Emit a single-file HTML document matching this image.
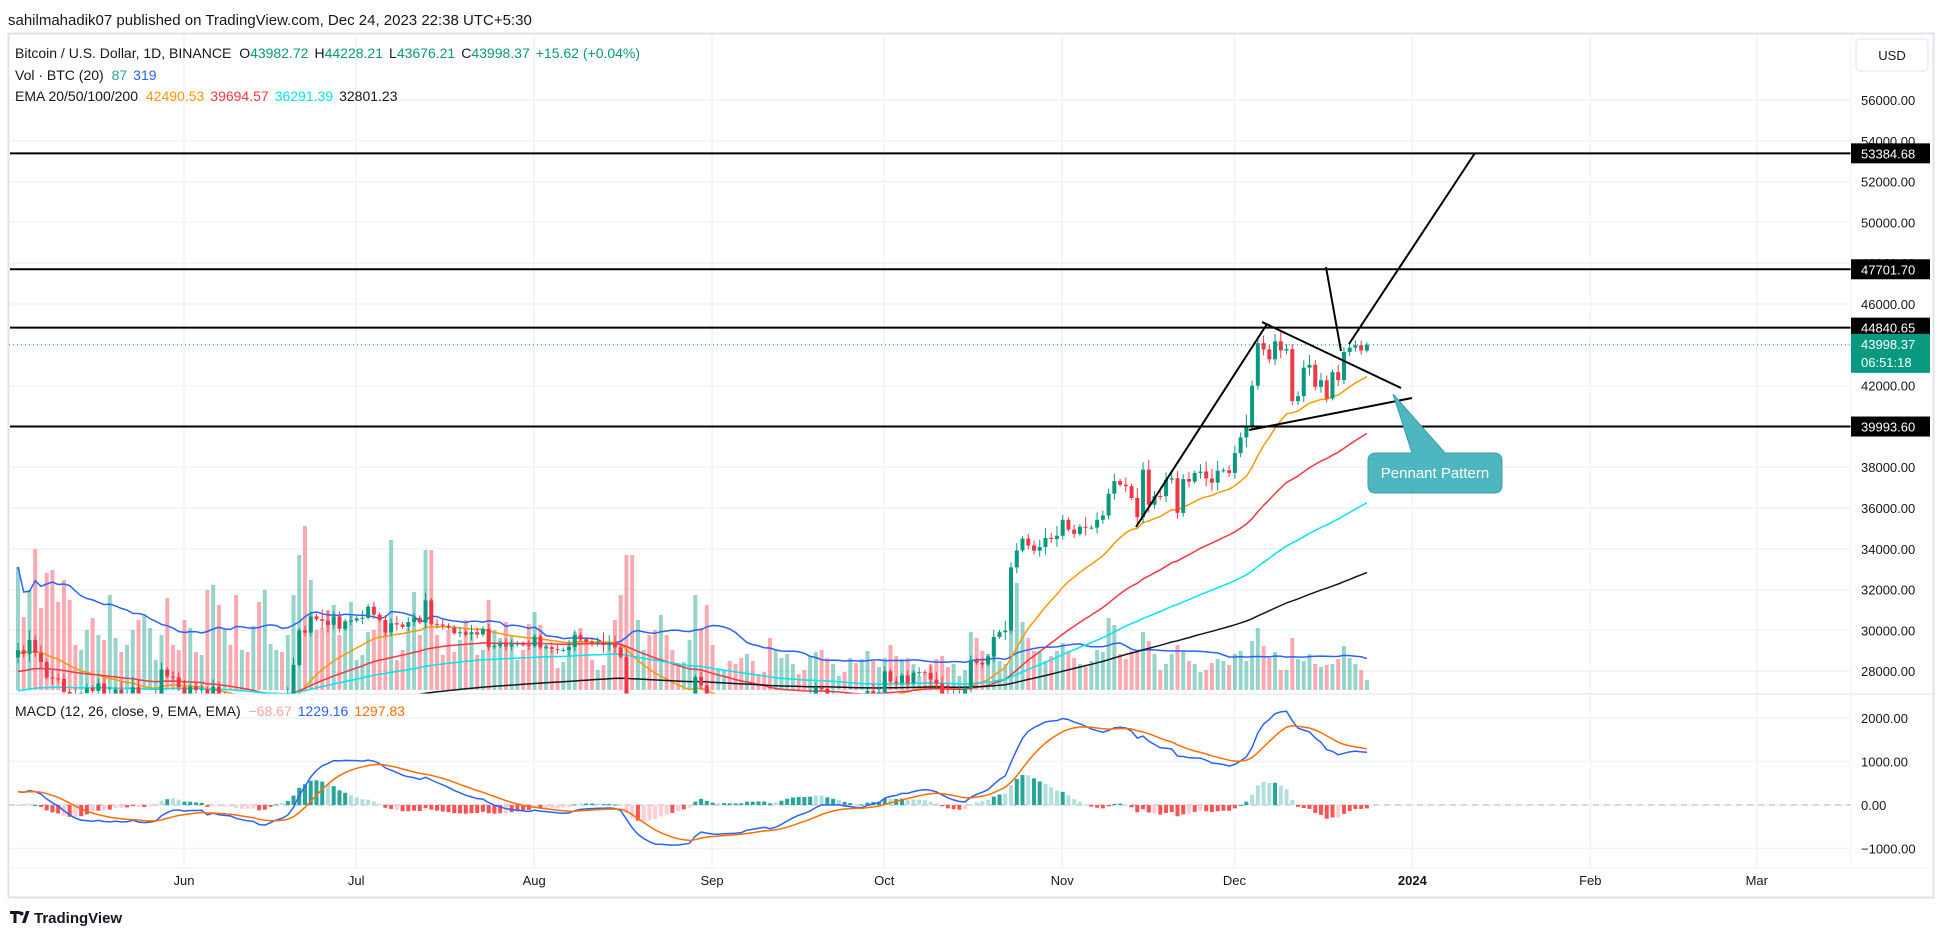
<!DOCTYPE html>
<html><head><meta charset="utf-8">
<style>
html,body{margin:0;padding:0;background:#fff;}
svg{display:block;font-family:"Liberation Sans",sans-serif;}
</style></head>
<body>
<svg id="chart" width="1946" height="937" viewBox="0 0 1946 937" xmlns="http://www.w3.org/2000/svg">
<defs>
<clipPath id="mainClip"><rect x="9" y="34" width="1842" height="660"/></clipPath>
<clipPath id="macdClip"><rect x="9" y="695" width="1842" height="172"/></clipPath>
</defs>
<rect width="1946" height="937" fill="#fff"/>
<text x="8" y="25" font-size="15" fill="#131722">sahilmahadik07 published on TradingView.com, Dec 24, 2023 22:38 UTC+5:30</text>
<rect x="8.5" y="33.5" width="1925" height="864" fill="none" stroke="#e0e3eb" stroke-width="2"/>
<g id="grid"></g>
<g id="main" clip-path="url(#mainClip)"></g>
<g id="macd" clip-path="url(#macdClip)"></g>
<g id="drawings"></g>
<line x1="9" y1="694" x2="1933" y2="694" stroke="#e0e3eb" stroke-width="1"/>
<line x1="1851" y1="34" x2="1851" y2="868" stroke="#f0f3fa" stroke-width="1"/>
<line x1="9" y1="868" x2="1933" y2="868" stroke="#f0f3fa" stroke-width="1"/>
<g id="axes"></g>
<g font-size="14">
<text x="15" y="58" fill="#131722">Bitcoin / U.S. Dollar, 1D, BINANCE <tspan dx="4">O</tspan><tspan fill="#089981">43982.72</tspan><tspan dx="6">H</tspan><tspan fill="#089981">44228.21</tspan><tspan dx="6">L</tspan><tspan fill="#089981">43676.21</tspan><tspan dx="6">C</tspan><tspan fill="#089981">43998.37</tspan><tspan dx="6" fill="#089981">+15.62 (+0.04%)</tspan></text>
<text x="15" y="80" fill="#131722">Vol · BTC (20) <tspan dx="4" fill="#26a69a">87</tspan><tspan dx="6" fill="#2962ff">319</tspan></text>
<text x="15" y="101" fill="#131722">EMA 20/50/100/200 <tspan dx="4" fill="#ff9800">42490.53</tspan><tspan dx="6" fill="#f23645">39694.57</tspan><tspan dx="6" fill="#00e5e5">36291.39</tspan><tspan dx="6" fill="#131722">32801.23</tspan></text>
<text x="15" y="716" fill="#131722">MACD (12, 26, close, 9, EMA, EMA) <tspan dx="4" fill="#f7a5a5">−68.67</tspan><tspan dx="6" fill="#2962ff">1229.16</tspan><tspan dx="6" fill="#ff6d00">1297.83</tspan></text>
</g>
<g>
<rect x="1856" y="39" width="72" height="32" rx="4" fill="#fff" stroke="#e0e3eb"/>
<text x="1892" y="60" font-size="13" fill="#131722" text-anchor="middle">USD</text>
</g>
<g>
<path d="M1368,461 Q1368,453 1376,453 L1412,453 L1393,394 L1445,453 L1494,453 Q1502,453 1502,461 L1502,485 Q1502,493 1494,493 L1376,493 Q1368,493 1368,485 Z" fill="#4db6c0" stroke="#3a9fa9" stroke-width="1"/>
<text x="1435" y="478" font-size="15" fill="#fff" text-anchor="middle">Pennant Pattern</text>
</g>
<g>
<path d="M10,911 h10 v3 h-3.5 v9 h-3 v-9 h-3.5 z M22,923 l4,-12 h3.5 l-4,12 z" fill="#131722"/>
<circle cx="21.5" cy="913.5" r="2" fill="#131722"/>
<text x="34" y="923" font-size="15" font-weight="bold" fill="#131722">TradingView</text>
</g>
</svg>
<script>
const closes = [
29030,28850,29530,28900,28450,27690,27650,27620,26990,26800,26780,26930,27170,27030,27400,26830,26890,27110,26750,26850,27220,26330,26470,26720,26860,28080,27740,27700,27220,
26820,27250,27070,27120,25740,27240,26340,26500,26480,25850,25940,25900,25920,25120,25580,26330,26510,26340,26850,28310,30000,29890,30690,30550,30470,30270,30690,30080,30450,30480,
30590,30620,31160,30770,30510,29900,30350,30290,30170,30410,30620,30390,31470,30320,30290,30230,30140,29860,29910,29800,29910,29800,30080,29180,29230,29350,29210,29310,29350,29280,29230,
29700,29170,29180,29080,29040,29040,29180,29770,29560,29430,29400,29420,29280,29400,29170,28700,26620,26050,26090,26190,26120,26050,26430,26160,26060,26010,26090,26100,27720,27300,25940,
25800,25870,25970,25810,25780,25750,26240,25900,25890,25840,25160,25840,26220,26530,26600,26570,26530,26760,27210,27130,26570,26580,26580,26250,26300,26220,26350,27030,26910,26970,
27990,27500,27430,27790,27410,27930,27950,27920,27590,27390,26870,26760,26860,26860,27160,28520,28410,28330,28720,29680,29910,29990,33090,33920,34500,34160,33910,34090,34530,34480,34640,
35420,34940,34730,35080,35040,35040,35420,35630,36700,37320,37140,37070,36490,35550,37880,36160,36590,36580,37390,37460,35760,37420,37290,37720,37790,37450,37240,37830,37850,37720,
38690,39460,39980,41990,44080,43770,43290,44170,43720,43790,41240,41480,42880,43020,41940,42260,41370,42660,42270,43650,43860,43970,43720,43998];
const firstOpen = 28680;
const volumes = [
123,73,100,141,82,117,120,88,110,90,45,40,60,72,55,50,95,52,38,45,60,70,75,62,30,55,92,45,40,
70,62,38,35,100,105,85,60,45,95,40,38,64,88,100,46,40,38,55,95,135,164,110,60,62,80,85,55,64,88,
30,35,58,60,75,68,150,30,40,62,98,55,140,140,55,35,60,38,50,70,55,35,40,90,60,52,68,55,30,40,66,
78,65,45,40,22,28,48,58,62,52,30,20,25,45,70,95,135,135,70,40,55,60,75,55,40,25,28,50,95,62,85,
45,20,20,29,26,32,36,29,16,18,52,40,32,36,26,16,20,34,38,40,32,26,14,18,32,27,31,39,29,23,
32,45,34,31,32,26,14,16,26,31,34,23,26,14,20,58,52,39,36,45,29,26,88,107,68,52,39,38,29,34,39,
47,39,32,26,23,29,40,38,72,65,36,31,39,40,58,49,36,20,26,36,45,39,29,26,18,20,27,31,29,25,
36,39,29,49,62,44,32,38,20,20,52,31,29,36,26,23,25,26,31,44,32,26,20,10];
const wickSteps = "32423132213121223132432123122312213242312213121331221442212131212231221312211213212112211211122132112243313211211112211221321121111212121232114221121322121212133342312121314231223424212141322313143422323231344412325223234222342321322221";
const priceTicks = [56000,54000,52000,50000,48000,46000,44000,42000,40000,38000,36000,34000,32000,30000,28000];
const macdTicks = [2000,1000,0,-1000];
const monthLabels = ["Jun","Jul","Aug","Sep","Oct","Nov","Dec","2024","Feb","Mar"];
const monthDays = [0,30,61,92,122,153,183,214,245,274];
const levels = [53384.68,47701.70,44840.65,39993.60];
const lastPrice = 43998.37;
const emaPeriods = [20,50,100,200];
const emaSeeds = [28900,27950,27000,25400];
const emaColors = ["#ff9800","#f23645","#00e5ee","#131722"];

const NS="http://www.w3.org/2000/svg";
function el(tag,attrs,parent){const e=document.createElementNS(NS,tag);for(const k in attrs)e.setAttribute(k,attrs[k]);parent.appendChild(e);return e;}
const X0=18, DX=5.74;
function xi(i){return X0+i*DX;}
function xDay(d){return 184+d*DX;}
function yP(p){return 100+(56000-p)*(40.8/2000);}
function yM(v){return 805-v*0.0435;}
function yV(v){return 690-v;}
const grid=document.getElementById('grid'), main=document.getElementById('main'), macd=document.getElementById('macd'), axes=document.getElementById('axes'), dr=document.getElementById('drawings');

priceTicks.forEach(p=>{
  const l=el('line',{x1:9,x2:1851,y1:yP(p),y2:yP(p),stroke:'#f0f3fa','stroke-width':1.5},grid);
  
  
  const t=el('text',{x:1861,y:yP(p)+5,'font-size':13,fill:'#131722'},axes);
  t.textContent=p.toFixed(2);
  
  
});
macdTicks.forEach(v=>{
  const l=el('line',{x1:9,x2:1851,y1:yM(v),y2:yM(v),stroke:'#f0f3fa','stroke-width':1.5},grid);
  
  
  const t=el('text',{x:1861,y:yM(v)+5,'font-size':13,fill:'#131722'},axes);
  t.textContent=(v<0?'−':'')+Math.abs(v).toFixed(2);
  
  
});
monthLabels.forEach((m,k)=>{
  const x=xDay(monthDays[k]);
  const l=el('line',{x1:x,x2:x,y1:34,y2:868,stroke:'#f0f3fa','stroke-width':1.5},grid);
  
  
  const t=el('text',{x:x,y:885,'font-size':13,fill:'#131722','text-anchor':'middle','font-weight':m==='2024'?'bold':'normal'},axes);
  t.textContent=m;
  
  
});
const zl=el('line',{x1:9,x2:1851,y1:yM(0),y2:yM(0),stroke:'#b2b5be','stroke-width':1,'stroke-dasharray':'6 5'},grid);



const n=closes.length;
for(let i=0;i<n;i++){
  const o=i?closes[i-1]:firstOpen, c=closes[i];
  const r=el('rect',{x:xi(i)-2,y:yV(volumes[i]),width:4,height:volumes[i],fill:c>=o?'rgba(8,153,129,0.42)':'rgba(242,54,69,0.42)'},main);
  
  
}
let vpts=[];
for(let i=0;i<n;i++){let s=0,k=0;for(let j=Math.max(0,i-19);j<=i;j++){s+=volumes[j];k++;}vpts.push(xi(i).toFixed(1)+','+yV(s/k).toFixed(1));}
const vma=el('polyline',{points:vpts.join(' '),fill:'none',stroke:'#2962ff','stroke-width':1.5},main);



emaPeriods.forEach((p,k)=>{
  let e=emaSeeds[k];const a=2/(p+1);const pts=[];
  for(let i=0;i<n;i++){e=closes[i]*a+e*(1-a);pts.push(xi(i).toFixed(1)+','+yP(e).toFixed(1));}
  const pl=el('polyline',{points:pts.join(' '),fill:'none',stroke:emaColors[k],'stroke-width':1.5},main);
  
  
});

for(let i=0;i<n;i++){
  const o=i?closes[i-1]:firstOpen, c=closes[i];
  const w=(+wickSteps[i%wickSteps.length])*120;
  const hi=Math.max(o,c)+w, lo=Math.min(o,c)-w*0.8;
  const col=c>=o?'#089981':'#f23645';
  const wk=el('line',{x1:xi(i),x2:xi(i),y1:yP(hi),y2:yP(lo),stroke:col,'stroke-width':1},main);
  
  
  const top=yP(Math.max(o,c)), h=Math.max(1,yP(Math.min(o,c))-top);
  const b=el('rect',{x:xi(i)-2,y:top,width:4,height:h,fill:col},main);
  
  
}

let e12=28700,e26=28400,sig=300;const mPts=[],sPts=[];
for(let i=0;i<n;i++){
  e12=closes[i]*2/13+e12*11/13; e26=closes[i]*2/27+e26*25/27;
  const m=e12-e26; const prevH=m-sig; sig=m*0.2+sig*0.8; const h=m-sig;
  mPts.push(xi(i).toFixed(1)+','+yM(m).toFixed(1)); sPts.push(xi(i).toFixed(1)+','+yM(sig).toFixed(1));
  const col=h>=0?(h>=prevH*0.8?'#26a69a':'#b2dfdb'):(h<=prevH*0.8?'#ff5252':'#ffcdd2');
  const y0=yM(0),y1=yM(h);
  const r=el('rect',{x:xi(i)-2,y:Math.min(y0,y1),width:4,height:Math.max(1,Math.abs(y1-y0)),fill:col},macd);
  
  
}
const ml=el('polyline',{points:mPts.join(' '),fill:'none',stroke:'#2962ff','stroke-width':1.5},macd);


const sl=el('polyline',{points:sPts.join(' '),fill:'none',stroke:'#ff6d00','stroke-width':1.5},macd);



const cp=el('line',{x1:9,x2:1851,y1:yP(lastPrice),y2:yP(lastPrice),stroke:'#089981','stroke-width':1,'stroke-dasharray':'1 3'},dr);



levels.forEach(p=>{
  const l=el('line',{x1:10,x2:1851,y1:yP(p),y2:yP(p),stroke:'#000','stroke-width':2},dr);
  
  
  const r=el('rect',{x:1851,y:yP(p)-10,width:79,height:20,fill:'#000'},axes);
  
  
  const t=el('text',{x:1861,y:yP(p)+5,'font-size':13,fill:'#fff'},axes);
  t.textContent=p.toFixed(2);
  
  
});
const cb=el('rect',{x:1851,y:yP(lastPrice)-11,width:79,height:39,fill:'#089981'},axes);


const ct=el('text',{x:1861,y:yP(lastPrice)+4,'font-size':13,fill:'#fff'},axes);
ct.textContent=lastPrice.toFixed(2);


const cd=el('text',{x:1861,y:yP(lastPrice)+22,'font-size':13,fill:'#fff'},axes);
cd.textContent='06:51:18';



[[1136,527,1267,324,'flagpole-line'],[1262,322,1401,388,'pennant-upper-line'],[1249,430,1412,398,'pennant-lower-line'],[1326,267,1341,351,'breakout-marker-line'],[1349,344,1475,153,'target-projection-line']].forEach(s=>{
  const l=el('line',{x1:s[0],y1:s[1],x2:s[2],y2:s[3],stroke:'#000','stroke-width':2},dr);
  
  
});
</script>
</body></html>
